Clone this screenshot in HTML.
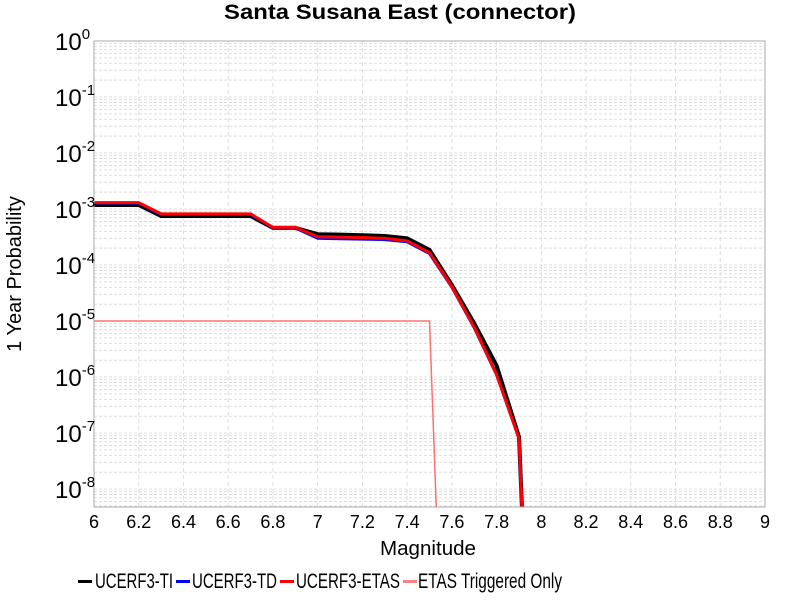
<!DOCTYPE html>
<html><head><meta charset="utf-8"><style>
html,body{margin:0;padding:0;background:#fff;font-family:"Liberation Sans",sans-serif;width:800px;height:600px;overflow:hidden}
svg{display:block;position:absolute;left:0;top:0}
</style></head><body>
<svg id="c" width="800" height="600" xmlns="http://www.w3.org/2000/svg">
<rect width="800" height="600" fill="#fff"/>
<text x="224" y="19" textLength="352" lengthAdjust="spacingAndGlyphs" font-size="21" font-weight="bold">Santa Susana East (connector)</text>
<g id="grid"></g>
<g id="series"></g>
<rect x="94" y="41" width="671" height="466" fill="none" stroke="#aaa" stroke-width="1"/>
<g id="axes"></g>
<text x="380" y="555" textLength="96" lengthAdjust="spacingAndGlyphs" font-size="20">Magnitude</text>
<text transform="translate(21,274) rotate(-90)" text-anchor="middle" font-size="20">1 Year Probability</text>
<g id="legend"></g>
</svg>
<script>
const mags = [6.0,6.2,6.3,6.4,6.5,6.6,6.7,6.8,6.9,7.0,7.1,7.2,7.3,7.4,7.5,7.6,7.7,7.8,7.9,8.0];
const tiValues = [1.18e-3,1.18e-3,7.5e-4,7.5e-4,7.5e-4,7.5e-4,7.5e-4,4.6e-4,4.6e-4,3.55e-4,3.5e-4,3.4e-4,3.3e-4,3.0e-4,1.86e-4,4.4e-5,9.1e-6,1.6e-6,8.5e-8,3e-17];
const tdValues = [1.28e-3,1.28e-3,8.0e-4,8.0e-4,8.0e-4,8.0e-4,8.0e-4,4.6e-4,4.6e-4,3.0e-4,2.95e-4,2.9e-4,2.85e-4,2.6e-4,1.6e-4,4.0e-5,7.6e-6,1.1e-6,8.0e-8,3e-17];
const etasValues = [1.30e-3,1.30e-3,8.2e-4,8.2e-4,8.2e-4,8.2e-4,8.2e-4,4.7e-4,4.7e-4,3.2e-4,3.15e-4,3.1e-4,3.0e-4,2.7e-4,1.66e-4,4.1e-5,7.8e-6,1.1e-6,8.1e-8,3e-17];
const trigMags = [6.0,7.5,7.6];
const trigValues = [1e-5,1e-5,1e-16];
const xTicks = [6,6.2,6.4,6.6,6.8,7,7.2,7.4,7.6,7.8,8,8.2,8.4,8.6,8.8,9];
const yExps = [0,-1,-2,-3,-4,-5,-6,-7,-8];
const legendNames = ["UCERF3-TI","UCERF3-TD","UCERF3-ETAS","ETAS Triggered Only"];

const NS="http://www.w3.org/2000/svg";
const L=94,R=765,T=41,B=507,YTOP=0,YBOT=-8.32;
const xs=v=>L+(v-6)/(9-6)*(R-L);
const ys=v=>T+(YTOP-Math.log10(v))/(YTOP-YBOT)*(B-T);
function mk(tag,at,parent){const e=document.createElementNS(NS,tag);for(const k in at)e.setAttribute(k,at[k]);parent.appendChild(e);return e;}
const grid=document.getElementById('grid'),axes=document.getElementById('axes'),ser=document.getElementById('series'),leg=document.getElementById('legend');

for(let d=0;d>-9;d--){for(let m=1;m<=9;m++){const v=m*Math.pow(10,d-1);const y=ys(v);if(y<T||y>B)continue;
const ln=mk('line',{x1:L,x2:R,y1:y,y2:y,stroke:'#ddd','stroke-width':1,'stroke-dasharray':'3,2'},grid);

}}
xTicks.forEach(t=>{const x=xs(t);
const ln=mk('line',{x1:x,x2:x,y1:T,y2:B,stroke:'#ddd','stroke-width':1,'stroke-dasharray':'4,3'},grid);


const tx=mk('text',{x:x,y:528,'text-anchor':'middle','font-size':18},axes);tx.textContent=String(t);

});
yExps.forEach(e=>{const y=ys(Math.pow(10,e));
const tx=mk('text',{x:55,y:y+9,'font-size':24},axes);


tx.appendChild(document.createTextNode('10'));
const s=document.createElementNS(NS,'tspan');s.setAttribute('dy','-11');s.setAttribute('font-size','15');s.textContent=String(e);tx.appendChild(s);});

function line(xv,yv,color,w,name){const p=xv.map((x,i)=>xs(x).toFixed(1)+','+ys(yv[i]).toFixed(1)).join(' ');
const pl=mk('polyline',{points:p,fill:'none',stroke:color,'stroke-width':w,'stroke-linejoin':'miter'},ser);

}
const cp=mk('clipPath',{id:'clp'},ser);mk('rect',{x:L,y:T,width:R-L,height:B-T},cp);ser.setAttribute('clip-path','url(#clp)');
line(mags,tiValues,'#000',4,'series-ucerf3-ti');
line(mags,tdValues,'#0000ff',3,'series-ucerf3-td');
line(mags,etasValues,'#ff0000',3,'series-ucerf3-etas');
line(trigMags,trigValues,'#ff7070',1.5,'series-etas-triggered');

const colors=['#000','#0000ff','#ff0000','#ff8080'];
const sx=[78,176,280,403];
const tx0=[95,192,296,418];
const tw=[78,85,104,144];
legendNames.forEach((n,i)=>{
const r=mk('rect',{x:sx[i],y:580,width:14,height:3,fill:colors[i]},leg);


const t=mk('text',{x:tx0[i],y:588,'font-size':21,textLength:tw[i],lengthAdjust:'spacingAndGlyphs'},leg);t.textContent=n;

});
</script>
</body></html>
